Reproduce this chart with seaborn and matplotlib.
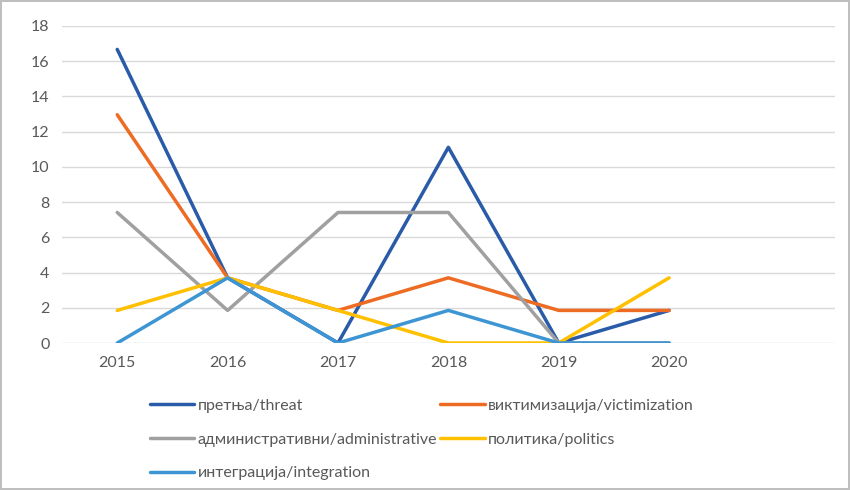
import matplotlib
matplotlib.use('Agg')
import seaborn as sns
import matplotlib.pyplot as plt
import pandas as pd

years = ["2015", "2016", "2017", "2018", "2019", "2020"]
threat = [16.67, 3.70, 0.0, 11.11, 0.0, 1.85]
victimization = [12.96, 3.70, 1.85, 3.70, 1.85, 1.85]
administrative = [7.41, 1.85, 7.41, 7.41, 0.0, 0.0]
politics = [1.85, 3.70, 1.85, 0.0, 0.0, 3.70]
integration = [0.0, 3.70, 0.0, 1.85, 0.0, 0.0]

names = ["претња/threat", "виктимизација/victimization",
         "административни/administrative", "политика/politics",
         "интеграција/integration"]
series = [threat, victimization, administrative, politics, integration]
colors = ["#2A5BA8", "#EE6B24", "#A0A0A0", "#FFC000", "#3E95D3"]

rows = []
for name, vals in zip(names, series):
    for i, v in enumerate(vals):
        rows.append({"pos": i, "value": v, "series": name})
df = pd.DataFrame(rows)

sns.set_style("white")
plt.rcParams['font.family'] = ['Lato', 'DejaVu Sans']

fig = plt.figure(figsize=(8.5, 4.9), dpi=100)
fig.patch.set_edgecolor("#BFBFBF")
fig.patch.set_linewidth(1.5)
ax = fig.add_axes([0.073, 0.30, 0.909, 0.647])

sns.lineplot(data=df, x="pos", y="value", hue="series", hue_order=names,
             palette=dict(zip(names, colors)), linewidth=2.5, sort=False,
             legend=False, ax=ax)

ax.set_xlim(-0.5, 6.5)
ax.set_ylim(0, 18)
ax.set_yticks(range(0, 19, 2))
ax.set_xticks(range(len(years)))
ax.set_xticklabels(years)
ax.set_xlabel("")
ax.set_ylabel("")
ax.grid(axis="y", color="#D9D9D9", linewidth=1)
ax.set_axisbelow(True)
for s in ax.spines.values():
    s.set_visible(False)
ax.tick_params(axis="both", length=0, labelsize=11.5, colors="#595959")
ax.tick_params(axis="y", pad=9)
ax.tick_params(axis="x", pad=9)

handles = [plt.Line2D([], [], color=c, linewidth=2.5) for c in colors]
order = [0, 2, 4, 1, 3]
fig.legend([handles[i] for i in order], [names[i] for i in order],
           loc="upper left", bbox_to_anchor=(0.176, 0.186), ncol=2,
           frameon=False, fontsize=11.5, handlelength=2.8, handletextpad=0.2,
           columnspacing=0.2, labelspacing=1.22, labelcolor="#595959",
           borderaxespad=0, borderpad=0)

fig.savefig("out.png", dpi=100)
